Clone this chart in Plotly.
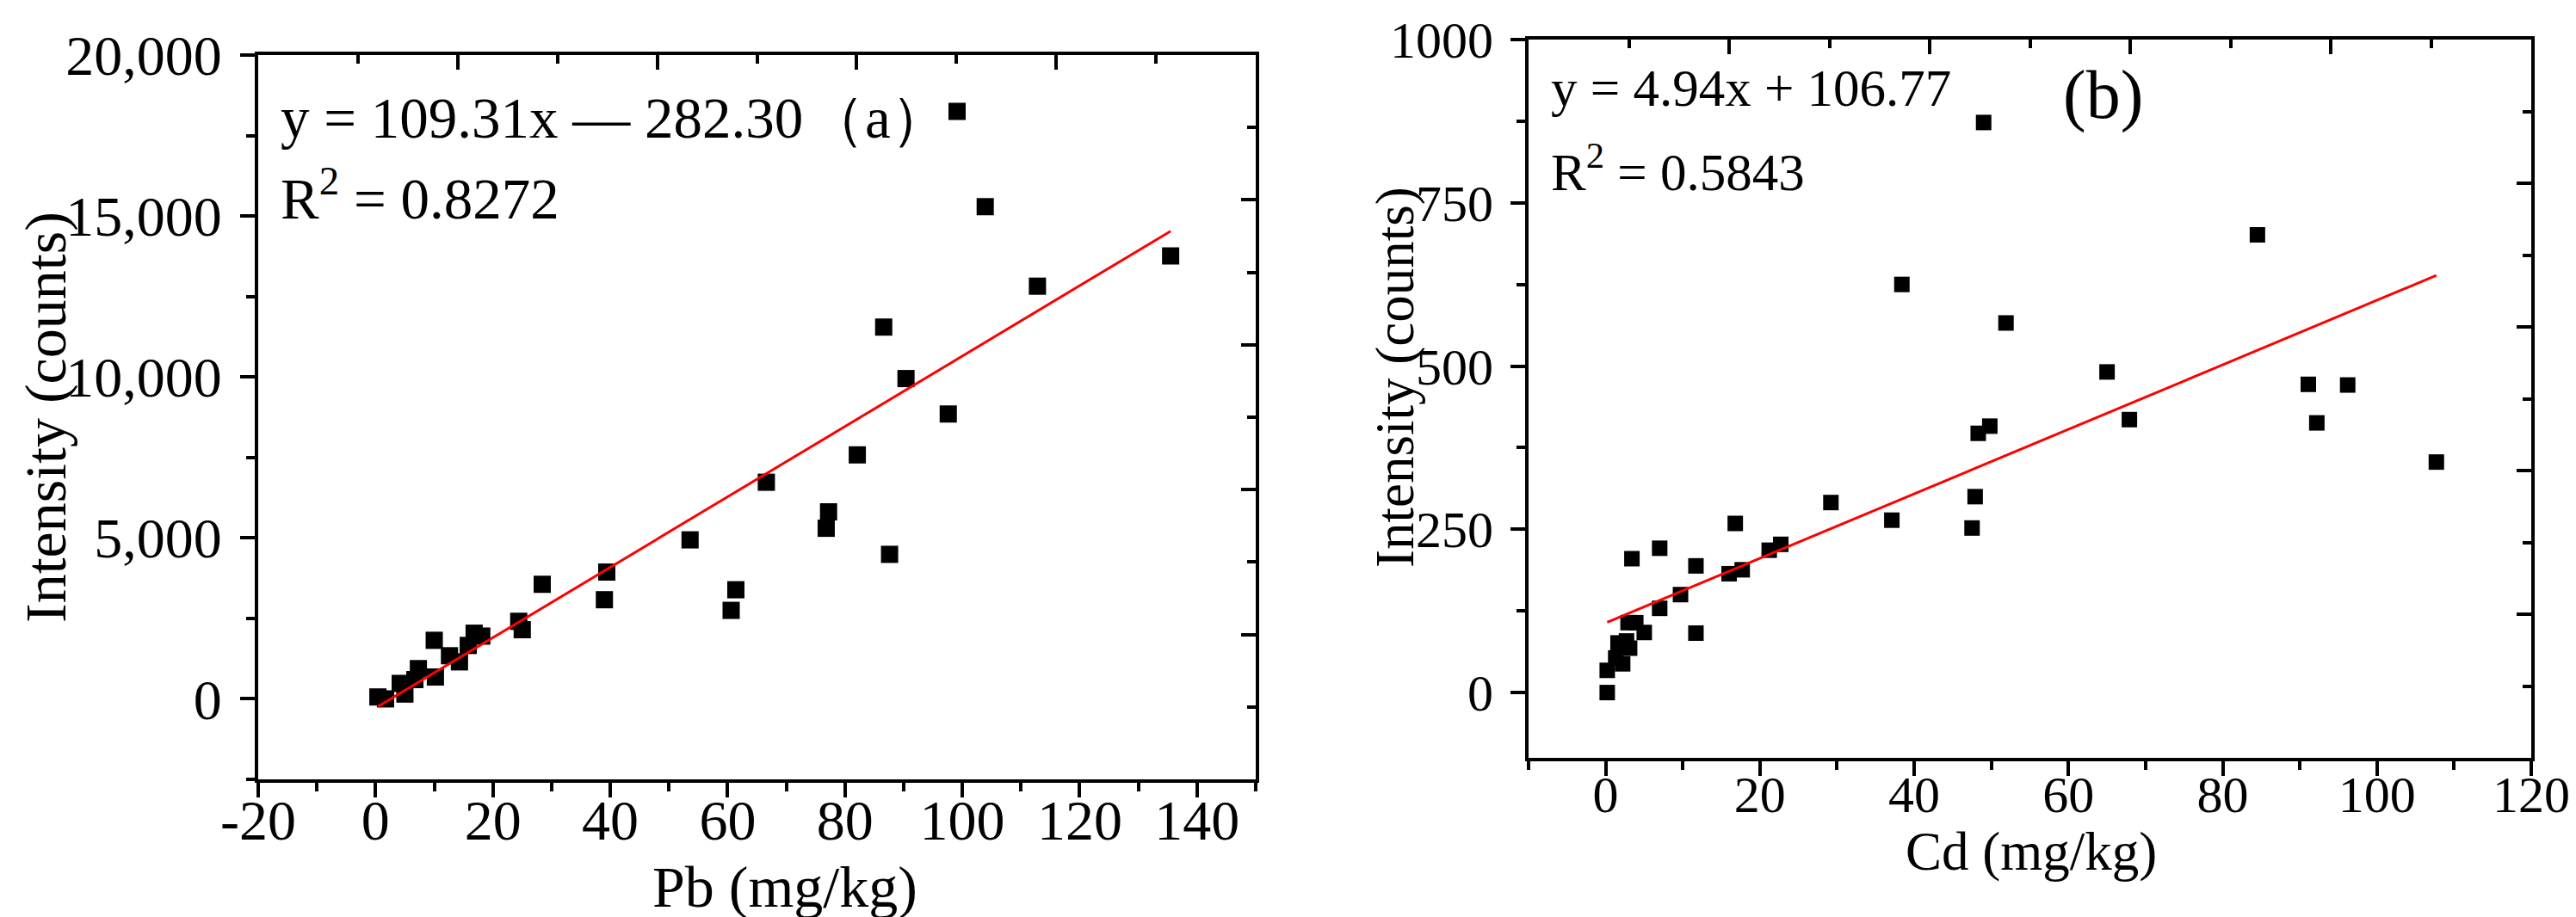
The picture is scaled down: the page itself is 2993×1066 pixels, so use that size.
import plotly.graph_objects as go

# ---------------- data: panel (a) Pb ----------------
pb_x = [0.4, 1.7, 4.2, 5.0, 6.7, 7.3, 10.2, 10.0, 12.6, 14.3, 15.8, 16.8, 18.1,
        24.4, 25.0, 28.4, 39.0, 39.4, 53.6, 60.6, 61.4, 66.6, 76.8, 77.2, 82.1,
        86.6, 87.6, 90.4, 97.6, 99.1, 103.9, 112.8, 135.5]
pb_y = [60, 0, 480, 150, 600, 940, 680, 1820, 1340, 1150, 1660, 2040, 1950,
        2410, 2150, 3560, 3080, 3940, 4940, 2750, 3390, 6730, 5300, 5810, 7580,
        11550, 4490, 9950, 8850, 18250, 15290, 12820, 13760]
pb_slope = 109.31
pb_intercept = -282.30

# ---------------- data: panel (b) Cd ----------------
cd_x = [0.2, 0.2, 1.3, 2.2, 1.6, 2.7, 3.1, 2.9, 3.9, 5.0, 7.0, 9.7, 11.7, 3.4,
        7.0, 11.7, 16.0, 17.7, 16.8, 21.2, 22.7, 29.2, 37.1, 38.4, 47.5, 47.9,
        48.3, 49.8, 49.0, 51.9, 65.0, 67.9, 84.5, 91.1, 92.2, 96.2, 107.7]
cd_y = [0, 34, 53, 44, 76, 79, 68, 107, 107, 92, 129, 150, 91, 205,
        221, 194, 182, 188, 259, 218, 227, 291, 264, 625, 252, 300,
        397, 408, 873, 566, 491, 418, 701, 472, 413, 471, 353]
cd_slope = 4.94
cd_intercept = 106.77

# ---------------- tick labels ----------------
pb_xticks = [-20, 0, 20, 40, 60, 80, 100, 120, 140]
pb_xtick_labels = ["-20", "0", "20", "40", "60", "80", "100", "120", "140"]
pb_yticks = [0, 5000, 10000, 15000, 20000]
pb_ytick_labels = ["0", "5,000", "10,000", "15,000", "20,000"]
cd_xticks = [0, 20, 40, 60, 80, 100, 120]
cd_xtick_labels = ["0", "20", "40", "60", "80", "100", "120"]
cd_yticks = [0, 250, 500, 750, 1000]
cd_ytick_labels = ["0", "250", "500", "750", "1000"]

W, H = 2993, 1066
FONT = "Liberation Serif"


def px_x(p):
    return p / W


def px_y(p):
    return 1 - p / H


fig = go.Figure()

# scatter points
fig.add_trace(go.Scatter(x=pb_x, y=pb_y, mode="markers", xaxis="x", yaxis="y",
                         marker=dict(symbol="square", size=20, color="black",
                                     line=dict(width=0)),
                         showlegend=False, hoverinfo="skip"))
pb_line_x = [min(pb_x), max(pb_x)]
fig.add_trace(go.Scatter(x=pb_line_x, y=[pb_slope * v + pb_intercept for v in pb_line_x],
                         mode="lines", xaxis="x", yaxis="y",
                         line=dict(color="red", width=3), showlegend=False,
                         hoverinfo="skip"))

fig.add_trace(go.Scatter(x=cd_x, y=cd_y, mode="markers", xaxis="x2", yaxis="y2",
                         marker=dict(symbol="square", size=18, color="black",
                                     line=dict(width=0)),
                         showlegend=False, hoverinfo="skip"))
cd_line_x = [min(cd_x), max(cd_x)]
fig.add_trace(go.Scatter(x=cd_line_x, y=[cd_slope * v + cd_intercept for v in cd_line_x],
                         mode="lines", xaxis="x2", yaxis="y2",
                         line=dict(color="red", width=3), showlegend=False,
                         hoverinfo="skip"))

# dummy traces so the mirrored (top/right) axes are drawn
fig.add_trace(go.Scatter(x=[None], y=[None], xaxis="x3", yaxis="y3",
                         showlegend=False, hoverinfo="skip"))
fig.add_trace(go.Scatter(x=[None], y=[None], xaxis="x4", yaxis="y4",
                         showlegend=False, hoverinfo="skip"))

LW = 4
TL, TW = 17, 4
ML, MW = 10, 3.5
X_STANDOFF = -30
Y_STANDOFF = 8


def base_axis(fs):
    return dict(showgrid=False, zeroline=False, showline=True, linewidth=LW,
                linecolor="black", tickcolor="black", ticklen=TL, tickwidth=TW,
                automargin=False,
                tickfont=dict(family=FONT, size=fs, color="black"))


pb_xrange = [-20, 150]
pb_yrange = [-2500, 20000]
cd_xrange = [-10, 120]
cd_yrange = [-100, 1000]

ax_a = [px_x(292), px_x(1451)]
ay_a = [px_y(898), px_y(56)]
ax_b = [px_x(1768), px_x(2933)]
ay_b = [px_y(873), px_y(38)]

fig.update_layout(
    width=W, height=H,
    margin=dict(l=0, r=0, t=0, b=0, autoexpand=False),
    paper_bgcolor="white", plot_bgcolor="white",
    font=dict(family=FONT, color="black"),
    xaxis=dict(**base_axis(66), domain=ax_a, anchor="y", range=pb_xrange,
               tickmode="array", tickvals=pb_xticks, ticktext=pb_xtick_labels,
               ticks="outside", ticklabelstandoff=X_STANDOFF,
               minor=dict(tick0=-20, dtick=10, ticks="outside", ticklen=ML,
                          tickwidth=MW, tickcolor="black", showgrid=False)),
    yaxis=dict(**base_axis(66), domain=ay_a, anchor="x", range=pb_yrange,
               tickmode="array", tickvals=pb_yticks, ticktext=pb_ytick_labels,
               ticks="outside", ticklabelstandoff=Y_STANDOFF,
               minor=dict(tick0=0, dtick=2500, ticks="outside", ticklen=ML,
                          tickwidth=MW, tickcolor="black", showgrid=False)),
    xaxis3=dict(**base_axis(66), overlaying="x", side="top", anchor="y",
                range=pb_xrange, tickmode="linear", tick0=-20, dtick=34,
                ticks="inside", showticklabels=False,
                minor=dict(tick0=-20, dtick=17, ticks="inside", ticklen=ML,
                           tickwidth=MW, tickcolor="black", showgrid=False)),
    yaxis3=dict(**base_axis(66), overlaying="y", side="right", anchor="x",
                range=pb_yrange, tickmode="linear", tick0=-2500, dtick=4500,
                ticks="inside", showticklabels=False,
                minor=dict(tick0=-2500, dtick=2250, ticks="inside", ticklen=ML,
                           tickwidth=MW, tickcolor="black", showgrid=False)),
    xaxis2=dict(**base_axis(60), domain=ax_b, anchor="y2", range=cd_xrange,
                tickmode="array", tickvals=cd_xticks, ticktext=cd_xtick_labels,
                ticks="outside", ticklabelstandoff=X_STANDOFF,
                minor=dict(tick0=-10, dtick=10, ticks="outside", ticklen=ML,
                           tickwidth=MW, tickcolor="black", showgrid=False)),
    yaxis2=dict(**base_axis(60), domain=ay_b, anchor="x2", range=cd_yrange,
                tickmode="array", tickvals=cd_yticks, ticktext=cd_ytick_labels,
                ticks="outside", ticklabelstandoff=Y_STANDOFF,
                minor=dict(tick0=0, dtick=125, ticks="outside", ticklen=ML,
                           tickwidth=MW, tickcolor="black", showgrid=False)),
    xaxis4=dict(**base_axis(60), overlaying="x2", side="top", anchor="y2",
                range=cd_xrange, tickmode="linear", tick0=-10, dtick=26,
                ticks="inside", showticklabels=False,
                minor=dict(tick0=-10, dtick=13, ticks="inside", ticklen=ML,
                           tickwidth=MW, tickcolor="black", showgrid=False)),
    yaxis4=dict(**base_axis(60), overlaying="y2", side="right", anchor="x2",
                range=cd_yrange, tickmode="linear", tick0=-100, dtick=220,
                ticks="inside", showticklabels=False,
                minor=dict(tick0=-100, dtick=110, ticks="inside", ticklen=ML,
                           tickwidth=MW, tickcolor="black", showgrid=False)),
)

ann = []


def add_text(text, x, y, size, xanchor="left", yanchor="bottom", angle=0):
    ann.append(dict(text=text, x=px_x(x), y=px_y(y), xref="paper", yref="paper",
                    xanchor=xanchor, yanchor=yanchor, showarrow=False,
                    textangle=angle,
                    font=dict(family=FONT, size=size, color="black")))


# panel (a) texts
add_text("y = 109.31x \u2014 282.30", 316, 168, 67)
add_text("\uff08a\uff09", 928, 168, 67)
add_text("R<sup>2</sup> = 0.8272", 316, 262, 67)
add_text("Intensity (counts)", 45, 477, 68, xanchor="center", yanchor="middle", angle=-90)
add_text("Pb (mg/kg)", 904, 1063, 68, xanchor="center", yanchor="bottom")

# panel (b) texts
add_text("y = 4.94x + 106.77", 1792, 130, 61)
add_text("R<sup>2</sup> = 0.5843", 1792, 228, 61)
add_text("(b)", 2387, 149, 80)
add_text("Intensity (counts)", 1613, 431, 63, xanchor="center", yanchor="middle", angle=-90)
add_text("Cd (mg/kg)", 2352, 1019, 63, xanchor="center", yanchor="bottom")

fig.update_layout(annotations=ann)

fig.write_html("out.html")
